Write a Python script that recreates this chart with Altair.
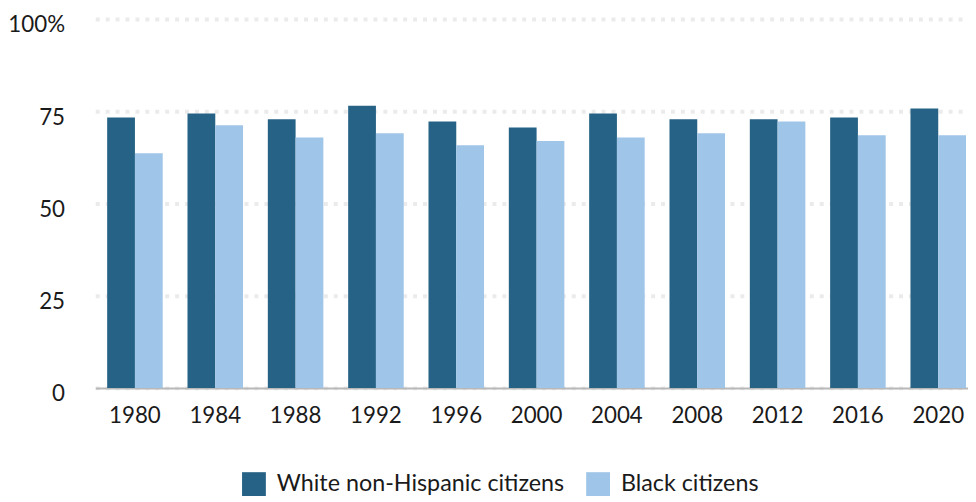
import altair as alt
import pandas as pd

years = ["1980", "1984", "1988", "1992", "1996", "2000", "2004", "2008", "2012", "2016", "2020"]
white = [73.3, 74.4, 72.8, 76.5, 72.2, 70.6, 74.4, 72.8, 72.8, 73.3, 75.7]
black = [63.6, 71.2, 67.9, 69.0, 65.8, 66.9, 67.9, 69.0, 72.2, 68.5, 68.5]
series = ["White non-Hispanic citizens", "Black citizens"]
colors = ["#256285", "#9fc5e8"]
y_ticks = [0, 25, 50, 75, 100]

rows = []
for i, yr in enumerate(years):
    rows.append({"year": yr, "series": series[0], "value": white[i]})
    rows.append({"year": yr, "series": series[1], "value": black[i]})
df = pd.DataFrame(rows)

FONT = "Lato"
TXT = "#1a1a1a"

chart = alt.Chart(df).mark_bar().encode(
    x=alt.X("year:N", sort=years,
            scale=alt.Scale(paddingInner=25/81, paddingOuter=0.0864, align=0.857),
            axis=alt.Axis(title=None, labelAngle=0, ticks=False, tickSize=0,
                          labelPadding=35, labelBaseline="alphabetic",
                          labelFontSize=22.5, labelColor=TXT, labelFont=FONT,
                          domain=True, domainColor="#b8b8b8", domainWidth=2,
                          grid=False)),
    xOffset=alt.XOffset("series:N", sort=series, scale=alt.Scale(paddingInner=0, paddingOuter=0)),
    y=alt.Y("value:Q", scale=alt.Scale(domain=[0, 100], nice=False),
            axis=alt.Axis(title=None, values=y_ticks, ticks=False, tickSize=0,
                          labelPadding=31, labelBaseline="alphabetic", labelOffset=13,
                          labelFontSize=22.5, labelColor=TXT, labelFont=FONT,
                          labelExpr="datum.value == 100 ? '100%' : datum.label",
                          domain=False, grid=True, gridColor="#ebebeb",
                          gridDash=[4, 6], gridWidth=4)),
    color=alt.Color("series:N", sort=series,
                    scale=alt.Scale(domain=series, range=colors),
                    legend=alt.Legend(title=None, orient="none", legendX=148, legendY=457,
                                      direction="horizontal", symbolType="square",
                                      symbolSize=576, symbolStrokeWidth=0,
                                      labelFontSize=23.5, labelFont=FONT, labelColor=TXT,
                                      labelOffset=11, columnPadding=22, labelLimit=500,
                                      padding=0)),
).properties(
    width=880, height=372,
    autosize=alt.AutoSizeParams(type="none"),
    padding={"left": 88, "top": 9, "right": 0, "bottom": 113},
).configure(font=FONT, view=alt.ViewConfig(stroke=None))

chart.save("out.html", embed_options={"renderer": "svg", "actions": False})
